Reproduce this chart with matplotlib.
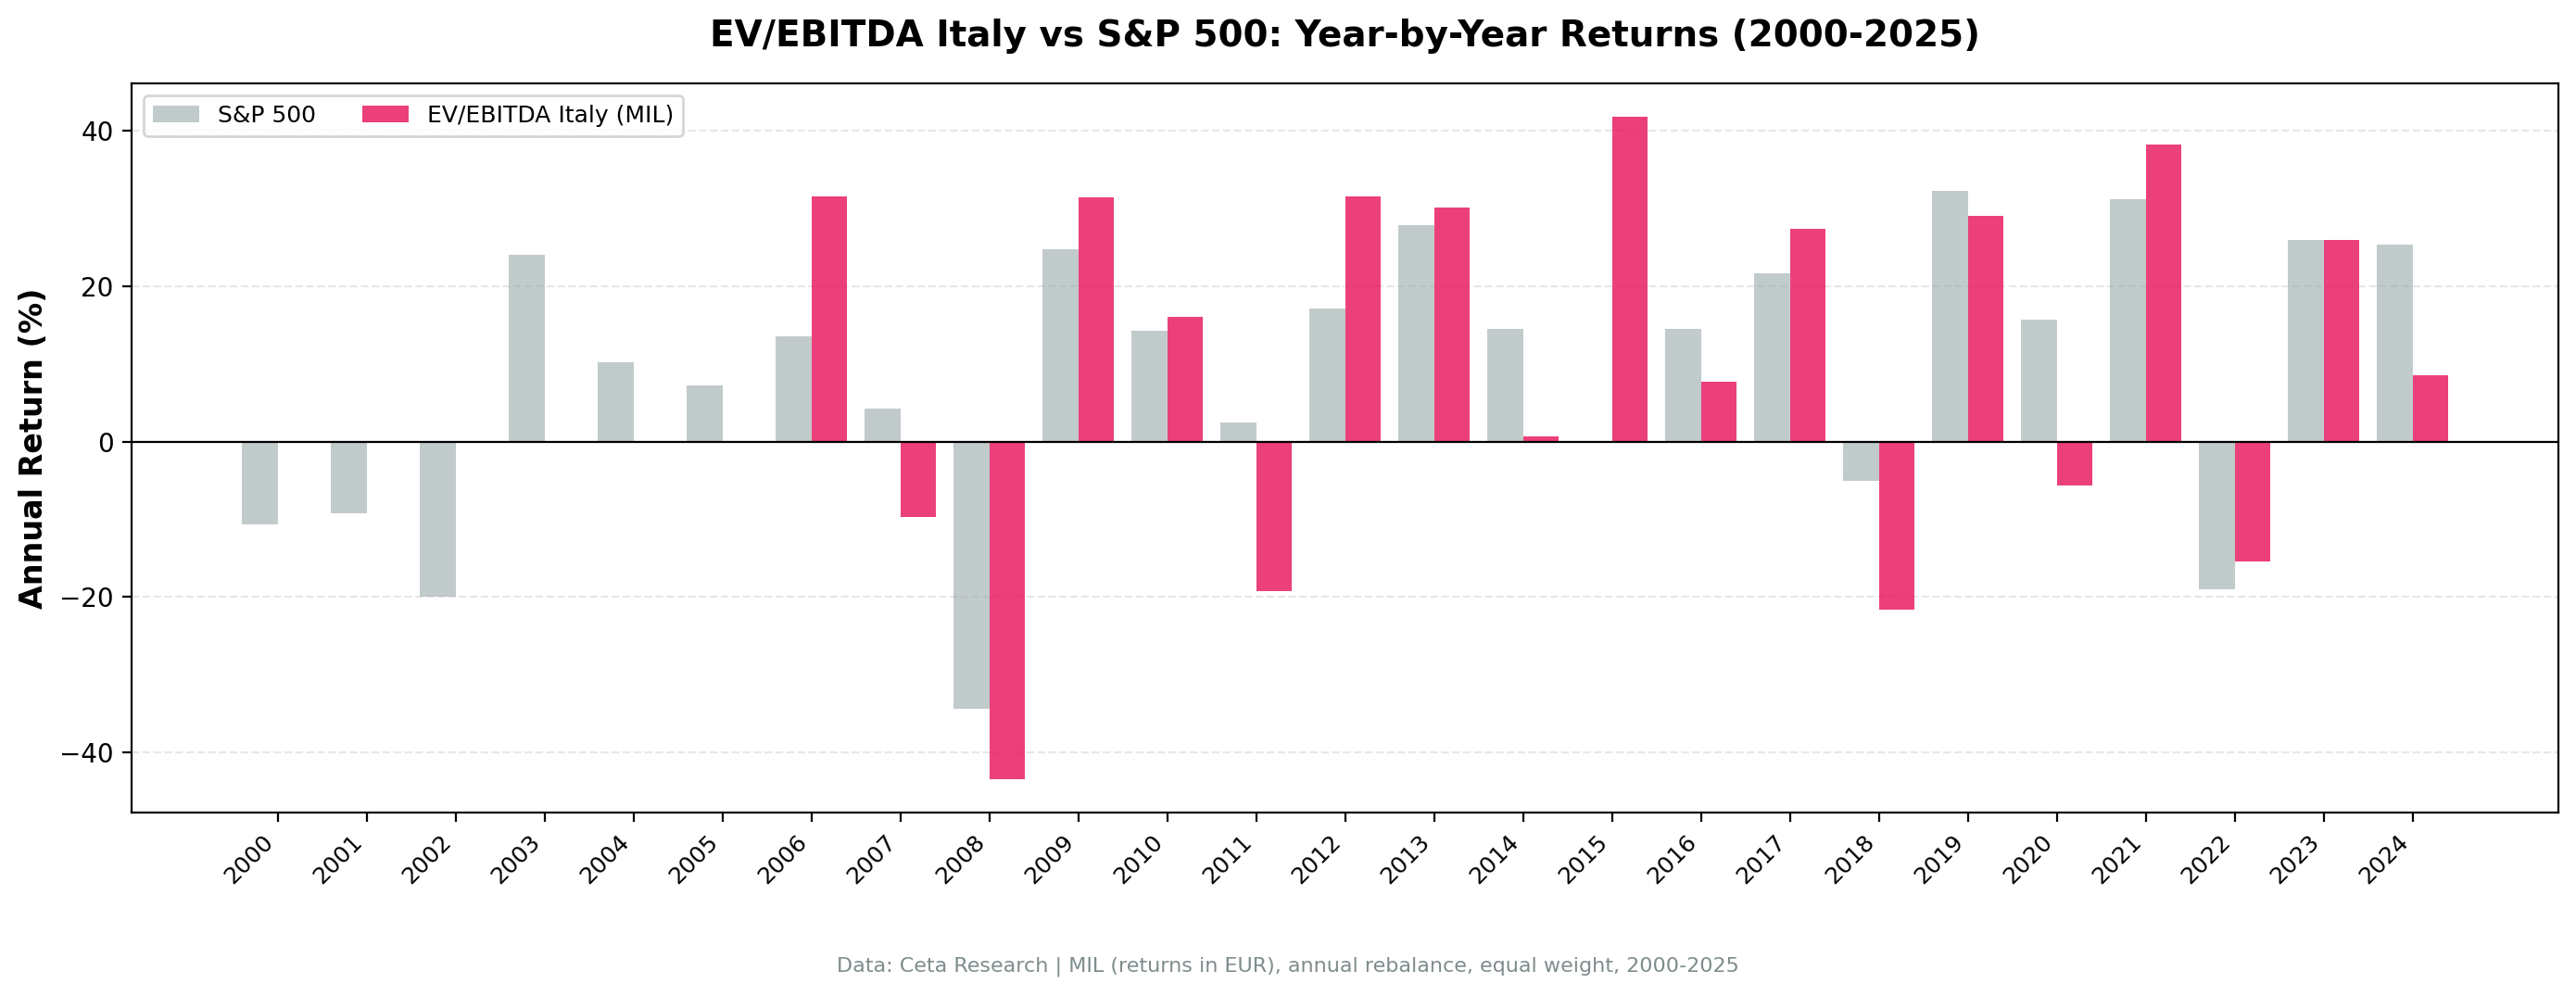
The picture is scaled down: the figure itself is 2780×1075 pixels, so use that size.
import numpy as np
import matplotlib
matplotlib.use("Agg")
import matplotlib.pyplot as plt

# annual returns (%)
years = list(range(2000, 2025))
sp500 = [-10.6, -9.2, -19.9, 24.1, 10.2, 7.2, 13.6, 4.3, -34.4, 24.7,
         14.3, 2.4, 17.1, 27.8, 14.5, 0.0, 14.5, 21.6, -5.1, 32.3,
         15.7, 31.2, -19.0, 26.0, 25.3]
italy = [np.nan, np.nan, np.nan, np.nan, np.nan, np.nan, 31.6, -9.7, -43.5, 31.4,
         16.0, -19.3, 31.5, 30.1, 0.7, 41.8, 7.7, 27.4, -21.6, 29.1,
         -5.7, 38.2, -15.4, 25.9, 8.5]

fig = plt.figure(figsize=(13.9, 5.375), dpi=200)
ax = fig.add_axes([0.0511, 0.184, 0.9421, 0.732])

x = np.arange(len(years))
w = 0.4
ax.bar(x - w/2, sp500, w, color='#95a5a6', alpha=0.57, label='S&P 500')
ax.bar(x + w/2, italy, w, color='#e91e63', alpha=0.85, label='EV/EBITDA Italy (MIL)')

ax.axhline(0, color='black', linewidth=0.8)
ax.set_xticks(x)
ax.set_xticklabels([str(y) for y in years], rotation=45, ha='right', fontsize=9)
ax.set_ylabel('Annual Return (%)', fontsize=12, fontweight='bold')
ax.yaxis.grid(True, linestyle='--', alpha=0.3)
ax.set_axisbelow(True)
ax.legend(loc='upper left', ncol=2, fontsize=9)

# title is centred over the axes, not the figure
fig.text(0.0511 + 0.9421 / 2, 0.964,
         'EV/EBITDA Italy vs S&P 500: Year-by-Year Returns (2000-2025)',
         ha='center', va='center', fontsize=14, fontweight='bold')
fig.text(0.5, 0.030, 'Data: Ceta Research | MIL (returns in EUR), annual rebalance, equal weight, 2000-2025',
         ha='center', va='center', fontsize=8, color='#7f8c8d')

fig.savefig('out.png', dpi=200)
